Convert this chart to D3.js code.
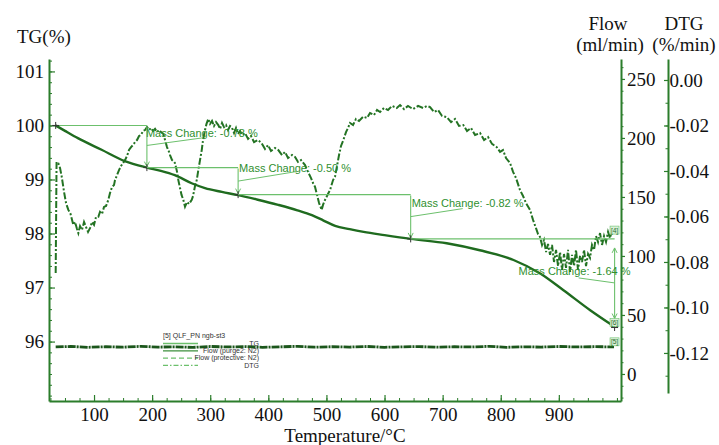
<!DOCTYPE html>
<html>
<head>
<meta charset="utf-8">
<script src="https://cdn.jsdelivr.net/npm/d3@7"></script>
<style>
body { margin: 0; background: #fff; }
svg { display: block; }
</style>
</head>
<body>
<svg id="chart" width="719" height="445"></svg>
<script>
// ---- data ----
var tempTicks = [100, 200, 300, 400, 500, 600, 700, 800, 900];
var tgTicks = [96, 97, 98, 99, 100, 101];
var flowTicks = [0, 50, 100, 150, 200, 250];
var dtgTicks = [0, -0.02, -0.04, -0.06, -0.08, -0.10, -0.12];

// TG curve (temperature, %)
var tgTemp  = [34, 50, 73, 113, 153, 191, 215, 239, 268, 291, 320, 348, 380, 417, 450, 475, 495, 515, 540, 564, 600, 645, 707, 764, 822, 868, 908, 954, 995];
var tgValue = [100.0, 99.9, 99.76, 99.55, 99.34, 99.22, 99.16, 99.08, 98.93, 98.84, 98.77, 98.71, 98.63, 98.53, 98.43, 98.34, 98.24, 98.14, 98.08, 98.03, 97.97, 97.90, 97.82, 97.69, 97.51, 97.26, 96.95, 96.58, 96.28];

// Flow (purge2: N2), ml/min
var flowTemp  = [34, 60, 90, 120, 150, 180, 210, 240, 270, 300, 330, 360, 390, 420, 450, 480, 510, 540, 570, 600, 630, 660, 690, 720, 750, 780, 810, 840, 870, 900, 930, 960, 995];
var flowValue = [22.9, 23.3, 22.6, 23.1, 22.7, 23.4, 22.8, 23.0, 22.5, 23.3, 22.9, 23.2, 22.6, 23.0, 23.4, 22.7, 23.1, 22.8, 23.3, 22.6, 23.0, 23.2, 22.7, 23.1, 22.9, 23.4, 22.6, 23.0, 22.8, 23.3, 22.9, 23.1, 23.0];

// DTG (temperature, %/min)
var dtgSeries = [[34,-0.0848],[35.5,-0.0360],[38.6,-0.0366],[41.5,-0.0387],[44.4,-0.0425],[48.4,-0.0492],[51.8,-0.0541],[55.8,-0.0571],[59.6,-0.0589],[64.4,-0.0637],[67.3,-0.0624],[70.7,-0.0655],[73,-0.0673],[75.9,-0.0642],[79.3,-0.0659],[82.8,-0.0624],[86.2,-0.0646],[89.7,-0.0668],[93.1,-0.0651],[96.6,-0.0624],[100,-0.0637],[103.4,-0.0602],[107.4,-0.0601],[110.3,-0.0580],[113.8,-0.0589],[117.2,-0.0558],[120.7,-0.0554],[124.6,-0.0527],[127.5,-0.0497],[131,-0.0470],[134.4,-0.0462],[136.1,-0.0440],[139.6,-0.0418],[143,-0.0396],[146.5,-0.0378],[149.9,-0.0365],[153.4,-0.0352],[156.8,-0.0334],[160.2,-0.0308],[163.7,-0.0295],[167.1,-0.0286],[170.6,-0.0273],[174,-0.0264],[177.5,-0.0246],[180.9,-0.0242],[184.3,-0.0224],[187.8,-0.0220],[191.2,-0.0207],[194.7,-0.0220],[198.1,-0.0211],[201.5,-0.0224],[205,-0.0215],[208.4,-0.0229],[211.9,-0.0220],[215.3,-0.0229],[219.3,-0.0237],[222.2,-0.0264],[225.6,-0.0295],[229.1,-0.0316],[230.8,-0.0330],[234.3,-0.0352],[237.7,-0.0360],[239.4,-0.0366],[242.9,-0.0404],[245.1,-0.0440],[248,-0.0475],[250.6,-0.0505],[253.7,-0.0527],[256.6,-0.0557],[260.1,-0.0536],[263.5,-0.0545],[268.2,-0.0527],[270.4,-0.0510],[273.8,-0.0466],[276.8,-0.0440],[279,-0.0404],[282.4,-0.0352],[285.4,-0.0308],[287.6,-0.0264],[291,-0.0220],[293.6,-0.0193],[296.7,-0.0171],[299.7,-0.0193],[303.1,-0.0180],[306.5,-0.0202],[310,-0.0185],[313.9,-0.0198],[316.9,-0.0215],[320.3,-0.0189],[323.8,-0.0207],[327.2,-0.0198],[330.6,-0.0220],[334.1,-0.0202],[337,-0.0207],[341,-0.0233],[344.4,-0.0211],[347.8,-0.0237],[351.3,-0.0224],[354.7,-0.0242],[359.9,-0.0233],[365.1,-0.0259],[370.2,-0.0246],[375.4,-0.0273],[382.3,-0.0264],[388.6,-0.0278],[394.3,-0.0303],[399.5,-0.0286],[404.6,-0.0312],[411.5,-0.0299],[417.2,-0.0308],[423.6,-0.0330],[428.7,-0.0316],[433.9,-0.0343],[440.8,-0.0330],[446,-0.0338],[451.1,-0.0360],[456.3,-0.0352],[463.2,-0.0374],[468.3,-0.0404],[473.5,-0.0431],[476.9,-0.0453],[480.4,-0.0470],[483.8,-0.0505],[487.3,-0.0541],[491.9,-0.0571],[494.1,-0.0549],[497.6,-0.0527],[503.3,-0.0498],[506.2,-0.0484],[511.4,-0.0440],[514.8,-0.0425],[518.2,-0.0378],[521.7,-0.0330],[525.1,-0.0290],[529.1,-0.0264],[533.7,-0.0229],[537.2,-0.0211],[540.6,-0.0189],[545.8,-0.0198],[550.9,-0.0171],[556.1,-0.0180],[563.5,-0.0161],[569.9,-0.0167],[575,-0.0145],[581.9,-0.0154],[587.1,-0.0132],[592.3,-0.0141],[599.1,-0.0123],[606,-0.0132],[612.9,-0.0114],[621,-0.0123],[626.7,-0.0110],[633.6,-0.0128],[640.4,-0.0114],[649,-0.0128],[657.7,-0.0114],[666.3,-0.0123],[673.1,-0.0114],[678.3,-0.0119],[685.2,-0.0141],[692.1,-0.0132],[699,-0.0158],[707,-0.0163],[714.5,-0.0185],[721.3,-0.0171],[728.2,-0.0202],[735.6,-0.0198],[742,-0.0224],[748.9,-0.0211],[755.8,-0.0242],[764.4,-0.0233],[771.3,-0.0264],[778.1,-0.0251],[785,-0.0281],[793.1,-0.0295],[798.8,-0.0316],[803.9,-0.0308],[809.1,-0.0343],[816,-0.0365],[821.2,-0.0404],[826.3,-0.0431],[833.2,-0.0484],[838.4,-0.0510],[843.5,-0.0541],[850.4,-0.0571],[855.6,-0.0615],[860.7,-0.0651],[864.2,-0.0677],[867.6,-0.0690],[871.1,-0.0725],[874.5,-0.0703],[878,-0.0756],[881.4,-0.0721],[884.9,-0.0769],[888.3,-0.0725],[891.7,-0.0800],[895.2,-0.0747],[898.6,-0.0818],[902.1,-0.0756],[905.5,-0.0835],[908.9,-0.0765],[912.4,-0.0826],[915.8,-0.0747],[919.3,-0.0844],[922.7,-0.0769],[926.2,-0.0818],[929.6,-0.0747],[933,-0.0835],[936.5,-0.0773],[939.9,-0.0800],[943.4,-0.0747],[946.8,-0.0818],[950.3,-0.0765],[953.7,-0.0782],[957.1,-0.0725],[960.6,-0.0747],[964,-0.0686],[967.5,-0.0712],[970.9,-0.0673],[974.4,-0.0725],[977.8,-0.0686],[981.2,-0.0712],[984.7,-0.0668],[988.1,-0.0695],[991.6,-0.0659],[995,-0.0673]];

// mass change steps (start temp, end temp, TG start, TG end, label)
var stepT0 = [34, 191, 348, 645];
var stepT1 = [191, 348, 645, 996];
var stepTG0 = [100.0, 99.22, 98.72, 97.90];
var stepTG1 = [99.22, 98.72, 97.90, 96.26];
var stepLabels = ["Mass Change: -0.78 %", "Mass Change: -0.50 %", "Mass Change: -0.82 %", "Mass Change: -1.64 %"];

var legendLabels = ["TG", "Flow (purge2: N2)", "Flow (protective: N2)", "DTG"];

// ---- drawing ----
var svg = d3.select("#chart");
var axisGreen = "#2b7d2b",
    curveGreen = "#1f6b1f",
    lightGreen = "#6cc06c",
    textGreen = "#2f8f2f",
    serif = "'Times New Roman', 'Liberation Serif', serif",
    sans = "Arial, 'Liberation Sans', sans-serif";

var x = d3.scaleLinear().domain([22.5, 1007]).range([49, 621]);
var yTG = d3.scaleLinear().domain([94.9, 101.23]).range([401, 59]);
var yFlow = d3.scaleLinear().domain([-22.9, 266.9]).range([401, 59]);
var yDTG = d3.scaleLinear().domain([-0.1376, 0.00923]).range([393, 59]);

function styleAxis(g) {
  g.attr("font-family", null).attr("font-size", null);
  g.select(".domain").attr("stroke", axisGreen).attr("stroke-width", 2);
  g.selectAll(".tick line").attr("stroke", axisGreen).attr("stroke-width", 1.2);
  g.selectAll(".tick text").style("font-family", serif).style("font-size", "19px").attr("fill", "#111");
}
function minor(g) {
  g.select(".domain").remove();
  g.selectAll(".tick line").attr("stroke", axisGreen).attr("stroke-width", 1);
}

// minor ticks
svg.append("g").attr("transform", "translate(0,401)")
  .call(d3.axisBottom(x).tickValues(d3.range(25, 1001, 25)).tickSize(-3).tickFormat(""))
  .call(minor);
svg.append("g").attr("transform", "translate(49,0)")
  .call(d3.axisLeft(yTG).tickValues(d3.range(95, 101.21, 0.2)).tickSize(-3).tickFormat(""))
  .call(minor);
svg.append("g").attr("transform", "translate(621,0)")
  .call(d3.axisRight(yFlow).tickValues(d3.range(-20, 261, 10)).tickSize(2.5).tickFormat(""))
  .call(minor);
svg.append("g").attr("transform", "translate(668,0)")
  .call(d3.axisRight(yDTG).tickValues(d3.range(-0.13, 0.001, 0.01)).tickSize(-2.5).tickFormat(""))
  .call(minor);

// major axes
svg.append("g").attr("transform", "translate(0,401)")
  .call(d3.axisBottom(x).tickValues(tempTicks).tickSizeInner(-6).tickSizeOuter(0).tickPadding(6.5)
    .tickFormat(d3.format("d")))
  .call(styleAxis);
svg.append("g").attr("transform", "translate(49,0)")
  .call(d3.axisLeft(yTG).tickValues(tgTicks).tickSizeInner(-6).tickSizeOuter(0).tickPadding(5)
    .tickFormat(d3.format("d")))
  .call(styleAxis);
svg.append("g").attr("transform", "translate(621,0)")
  .call(d3.axisRight(yFlow).tickValues(flowTicks).tickSizeInner(4).tickSizeOuter(0).tickPadding(2)
    .tickFormat(d3.format("d")))
  .call(styleAxis);
svg.append("g").attr("transform", "translate(668,0)")
  .call(d3.axisRight(yDTG).tickValues(dtgTicks).tickSizeInner(-4).tickSizeOuter(0).tickPadding(1.5)
    .tickFormat(function(d) { return d.toFixed(2); }))
  .call(styleAxis);

// axis titles
function title(txt, tx, ty, anchor) {
  svg.append("text").attr("x", tx).attr("y", ty).attr("text-anchor", anchor || "middle")
    .style("font-family", serif).style("font-size", "19px").attr("fill", "#111").text(txt);
}
title("TG(%)", 17, 43, "start");
title("Flow", 608, 30);
title("(ml/min)", 610, 51);
title("DTG", 684, 30);
title("(%/min)", 684, 51);
title("Temperature/\u00B0C", 345, 442);

// flow (purge) line
var flowLine = d3.line().x(function(d, i) { return x(flowTemp[i]); }).y(function(d) { return yFlow(d); });
svg.append("path").datum(flowValue).attr("d", flowLine)
  .attr("fill", "none").attr("stroke", "#1b561b").attr("stroke-width", 2.8)
  .attr("stroke-dasharray", "8,1,2,1");

// DTG curve (dash-dot)
var dtgLine = d3.line().x(function(d) { return x(d[0]); }).y(function(d) { return yDTG(d[1]); });
svg.append("path").datum(dtgSeries).attr("d", dtgLine)
  .attr("fill", "none").attr("stroke", "#237323").attr("stroke-width", 2)
  .attr("stroke-dasharray", "7,2,2,2");

// TG curve
var tgLine = d3.line().curve(d3.curveMonotoneX)
  .x(function(d, i) { return x(tgTemp[i]); }).y(function(d) { return yTG(d); });
svg.append("path").datum(tgValue).attr("d", tgLine)
  .attr("fill", "none").attr("stroke", curveGreen).attr("stroke-width", 2.4);

// mass change annotations
var ann = svg.append("g");
function arrowHead(px, py, dir) {
  ann.append("path")
    .attr("d", "M" + (px - 2.5) + "," + (py - 5 * dir) + "L" + px + "," + py + "L" + (px + 2.5) + "," + (py - 5 * dir))
    .attr("fill", "none").attr("stroke", lightGreen).attr("stroke-width", 1);
}
function cross(px, py) {
  ann.append("path").attr("d", "M" + (px - 3.5) + "," + py + "H" + (px + 3.5) + "M" + px + "," + (py - 3.5) + "V" + (py + 3.5))
    .attr("stroke", "#333").attr("stroke-width", 1);
}
// text offsets: [dx from vertical line, baseline dy from top level, leader start dy, leader end dx, leader end dy]
var labelPlace = [[-1, 11.5, 20, 55, 12.5], [1, 4.5, 13.5, 58, 4], [1, 12.5, 22, 52, 14], [-96, 36, 44, -36, 39]];
stepT0.forEach(function(t0, i) {
  var x0 = x(t0), x1 = x(stepT1[i]), y0 = yTG(stepTG0[i]), y1 = yTG(stepTG1[i]);
  ann.append("line").attr("x1", x0).attr("x2", x1).attr("y1", y0).attr("y2", y0)
    .attr("stroke", lightGreen).attr("stroke-width", 1.1);
  var top = i === 3 ? y0 + 9 : y0 + 1, bot = i === 3 ? y1 - 9 : y1 - 1;
  ann.append("line").attr("x1", x1).attr("x2", x1).attr("y1", top).attr("y2", bot)
    .attr("stroke", lightGreen).attr("stroke-width", 1.1);
  arrowHead(x1, bot, 1);
  if (i === 3) arrowHead(x1, top, -1);
  var p = labelPlace[i];
  ann.append("line").attr("x1", x1).attr("y1", y0 + p[2]).attr("x2", x1 + p[3]).attr("y2", y0 + p[4])
    .attr("stroke", lightGreen).attr("stroke-width", 1);
  ann.append("text").attr("x", x1 + p[0]).attr("y", y0 + p[1])
    .style("font-family", sans).style("font-size", "11px").attr("fill", textGreen).text(stepLabels[i]);
  if (i === 0) cross(x0, y0);
  cross(x1, y1);
});

// small curve tags
var tags = [["[4]", x(995), yDTG(-0.0673) - 2], ["[6]", x(995), yTG(96.28) - 3], ["[5]", x(995), yFlow(23.0) - 4]];
tags.forEach(function(t) {
  ann.append("rect").attr("x", t[1] - 4).attr("y", t[2] - 5).attr("width", 9).attr("height", 8)
    .attr("fill", "#d9f0d9").attr("stroke", lightGreen).attr("stroke-width", 0.6);
  ann.append("text").attr("x", t[1] + 0.5).attr("y", t[2] + 1.5).attr("text-anchor", "middle")
    .style("font-family", sans).style("font-size", "6.5px").attr("fill", curveGreen).text(t[0]);
});

// legend
var leg = svg.append("g");
leg.append("text").attr("x", 163).attr("y", 338).style("font-family", sans).style("font-size", "7px")
  .attr("fill", "#333").text("[5] QLF_PN ngb-st3");
var legDash = [null, null, "5,3", "5,2,1.5,2"];
var legColor = [lightGreen, "#3d8f3d", lightGreen, lightGreen];
legendLabels.forEach(function(lbl, i) {
  var ly = 343.5 + i * 7.3;
  leg.append("line").attr("x1", 163).attr("x2", 198).attr("y1", ly).attr("y2", ly)
    .attr("stroke", legColor[i]).attr("stroke-width", 1.3).attr("stroke-dasharray", legDash[i]);
  leg.append("text").attr("x", 259).attr("y", ly + 2.2).attr("text-anchor", "end")
    .style("font-family", sans).style("font-size", "7px").attr("fill", "#333").text(lbl);
});
</script>
</body>
</html>
